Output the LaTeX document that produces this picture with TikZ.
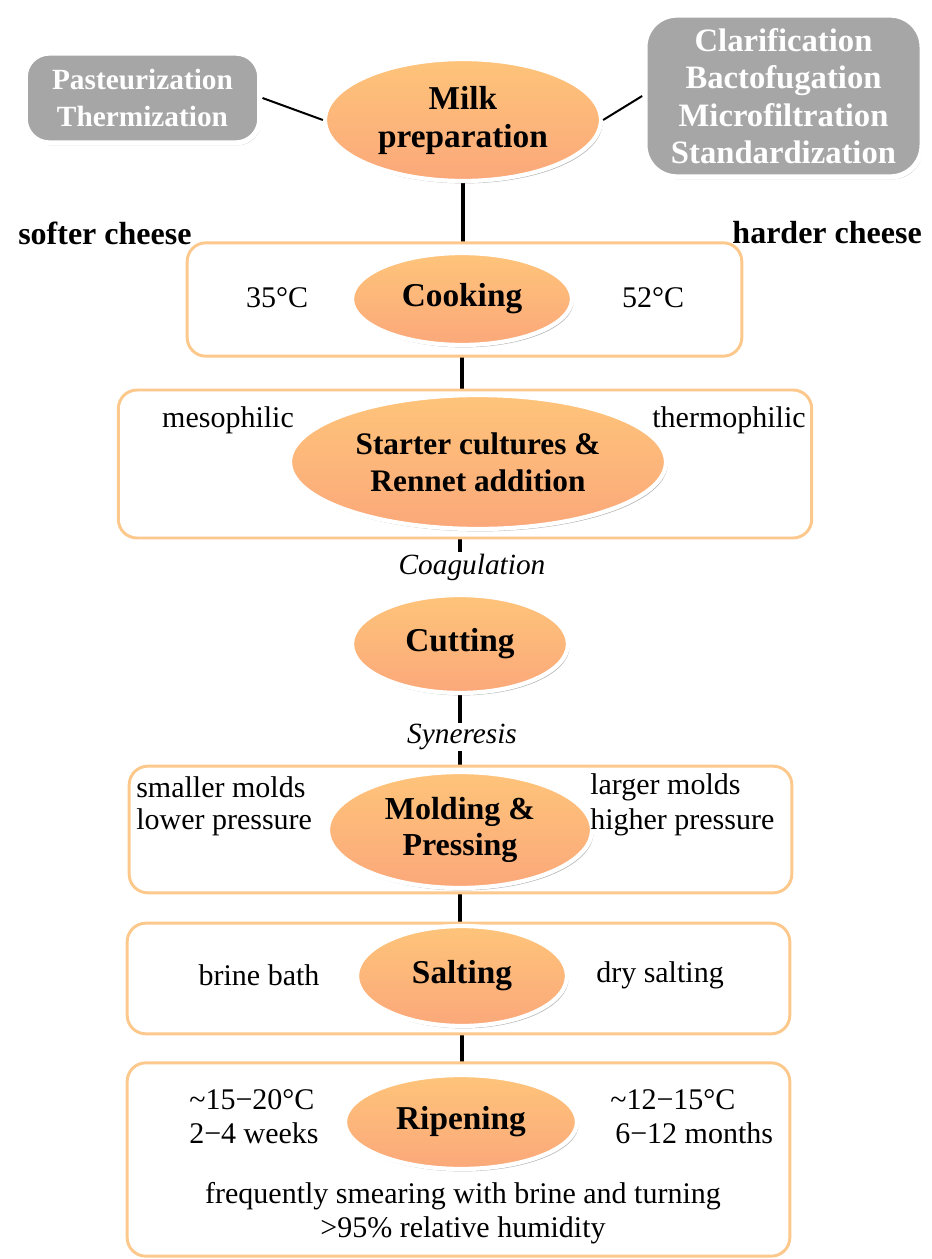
\documentclass[tikz,border=0pt]{standalone}
\usepackage{fontspec}
\setmainfont{Liberation Serif}
\usetikzlibrary{shapes.geometric,shadows}
\definecolor{ellTop}{RGB}{254,196,122}
\definecolor{ellBot}{RGB}{251,168,122}
\definecolor{boxOrange}{RGB}{252,200,140}
\definecolor{grayFill}{RGB}{166,166,166}
\pgfdeclarelayer{bg}
\pgfdeclarelayer{boxes}
\pgfsetlayers{bg,boxes,main}
\tikzset{
  stage/.style={ellipse, draw=white, line width=3.2pt, top color=ellTop, bottom color=ellBot,
    inner sep=0pt, align=center, font=\bfseries\fontsize{25}{28.5}\selectfont,
    drop shadow={shadow xshift=1.2pt, shadow yshift=-1.8pt, opacity=0.3, fill=black}},
  stagebox/.style={rectangle, draw=boxOrange, line width=2.2pt, rounded corners=14pt, fill=white, inner sep=0pt},
  graybox/.style={rectangle, fill=grayFill, draw=white, line width=4pt, rounded corners=18pt,
    text=white, align=center, inner sep=0pt, font=\bfseries\fontsize{22}{28}\selectfont,
    drop shadow={shadow xshift=1.2pt, shadow yshift=-1.8pt, opacity=0.3, fill=black}},
  side/.style={inner sep=0pt, font=\fontsize{22.5}{26}\selectfont},
  sideb/.style={inner sep=0pt, font=\bfseries\fontsize{24}{28}\selectfont},
  proc/.style={inner sep=1pt, font=\itshape\fontsize{22}{26}\selectfont},
  link/.style={line width=2.3pt, black},
  sidelink/.style={line width=1.5pt, black}
}
\begin{document}
\begin{tikzpicture}[x=0.75pt,y=-0.75pt]
\useasboundingbox (0,0) rectangle (931,1259);
% boxes
\begin{pgfonlayer}{boxes}
\node[stagebox, minimum width=416pt, minimum height=85pt] (cookbox) at (464.5,299.5) {};
\node[stagebox, minimum width=520pt, minimum height=111pt] (startbox) at (465,464) {};
\node[stagebox, minimum width=497pt, minimum height=95pt] (moldbox) at (460.5,829.5) {};
\node[stagebox, minimum width=497pt, minimum height=83pt] (saltbox) at (458.5,978.5) {};
\node[stagebox, minimum width=497pt, minimum height=145pt] (ripebox) at (458.5,1159.5) {};
\end{pgfonlayer}
% gray boxes
\node[graybox, minimum width=176pt, minimum height=67.5pt] (past) at (142.5,98) {Pasteurization\\Thermization};
\node[graybox, minimum width=208pt, minimum height=121.5pt, rounded corners=24pt, font=\bfseries\fontsize{24.5}{28}\selectfont] (clar) at (783.5,96) {Clarification\\Bactofugation\\Microfiltration\\Standardization};
% ellipses
\node[stage, minimum width=207pt, minimum height=91.5pt] (milk) at (463,120) {Milk\\preparation};
\node[stage, minimum width=165pt, minimum height=69pt] (cook) at (462,299) {Cooking};
\node[stage, minimum width=282pt, minimum height=100.5pt, font=\bfseries\fontsize{23.5}{28}\selectfont] (starter) at (478,462) {Starter cultures \&\\Rennet addition};
\node[stage, minimum width=162pt, minimum height=73.5pt] (cut) at (460,644) {Cutting};
\node[stage, minimum width=198pt, minimum height=87pt, font=\bfseries\fontsize{24}{26.5}\selectfont] (mold) at (460,830) {Molding \&\\Pressing};
\node[stage, minimum width=157.5pt, minimum height=75pt] (salt) at (462,976) {Salting};
\node[stage, minimum width=174pt, minimum height=70.5pt] (ripe) at (461,1122) {Ripening};
% side texts
\node[sideb, anchor=west] (soft) at (18,233) {softer cheese};
\node[sideb, anchor=east] (hard) at (922,233) {harder cheese};
\node[side] (t35) at (277,298) {35°C};
\node[side] (t52) at (653,298) {52°C};
\node[side] (meso) at (228,420) {mesophilic};
\node[side] (thermo) at (729,420) {thermophilic};
\node[proc] (coag) at (472,567) {Coagulation};
\node[proc] (syn) at (462,737) {Syneresis};
\node[side, anchor=west] (sm1) at (136,787) {smaller molds};
\node[side, anchor=west] (sm2) at (136,822) {lower pressure};
\node[side, anchor=west] (lg1) at (590,787) {larger molds};
\node[side, anchor=west] (lg2) at (590,822) {higher pressure};
\node[side] (brine) at (259,975) {brine bath};
\node[side] (dry) at (660,975) {dry salting};
\node[side, anchor=west] (r1) at (189,1100) {\textasciitilde15−20°C};
\node[side, anchor=west] (r2) at (189,1133) {2−4 weeks};
\node[side, anchor=west] (r3) at (610,1100) {\textasciitilde12−15°C};
\node[side, anchor=west] (r4) at (615,1133) {6−12 months};
\node[side] (hum1) at (463,1196) {frequently smearing with brine and turning};
\node[side] (hum2) at (463,1230) {>95\% relative humidity};
% connectors
\begin{pgfonlayer}{bg}
\draw[link] (milk.south) -- (milk.south |- cook.north);
\draw[link] (cook.south) -- (cook.south |- starter.north);
\draw[link] (coag.north -| cut.north) -- (cut.north |- starter.south);
\draw[link] (cut.south) -- (syn.north -| cut.south);
\draw[link] (syn.south -| mold.north) -- (mold.north);
\draw[link] (mold.south) -- (mold.south |- salt.north);
\draw[link] (salt.south) -- (salt.south |- ripe.north);
\end{pgfonlayer}
\draw[sidelink] (past.east) -- (milk.west);
\draw[sidelink] (milk.east) -- (clar.west);
\end{tikzpicture}
\end{document}
